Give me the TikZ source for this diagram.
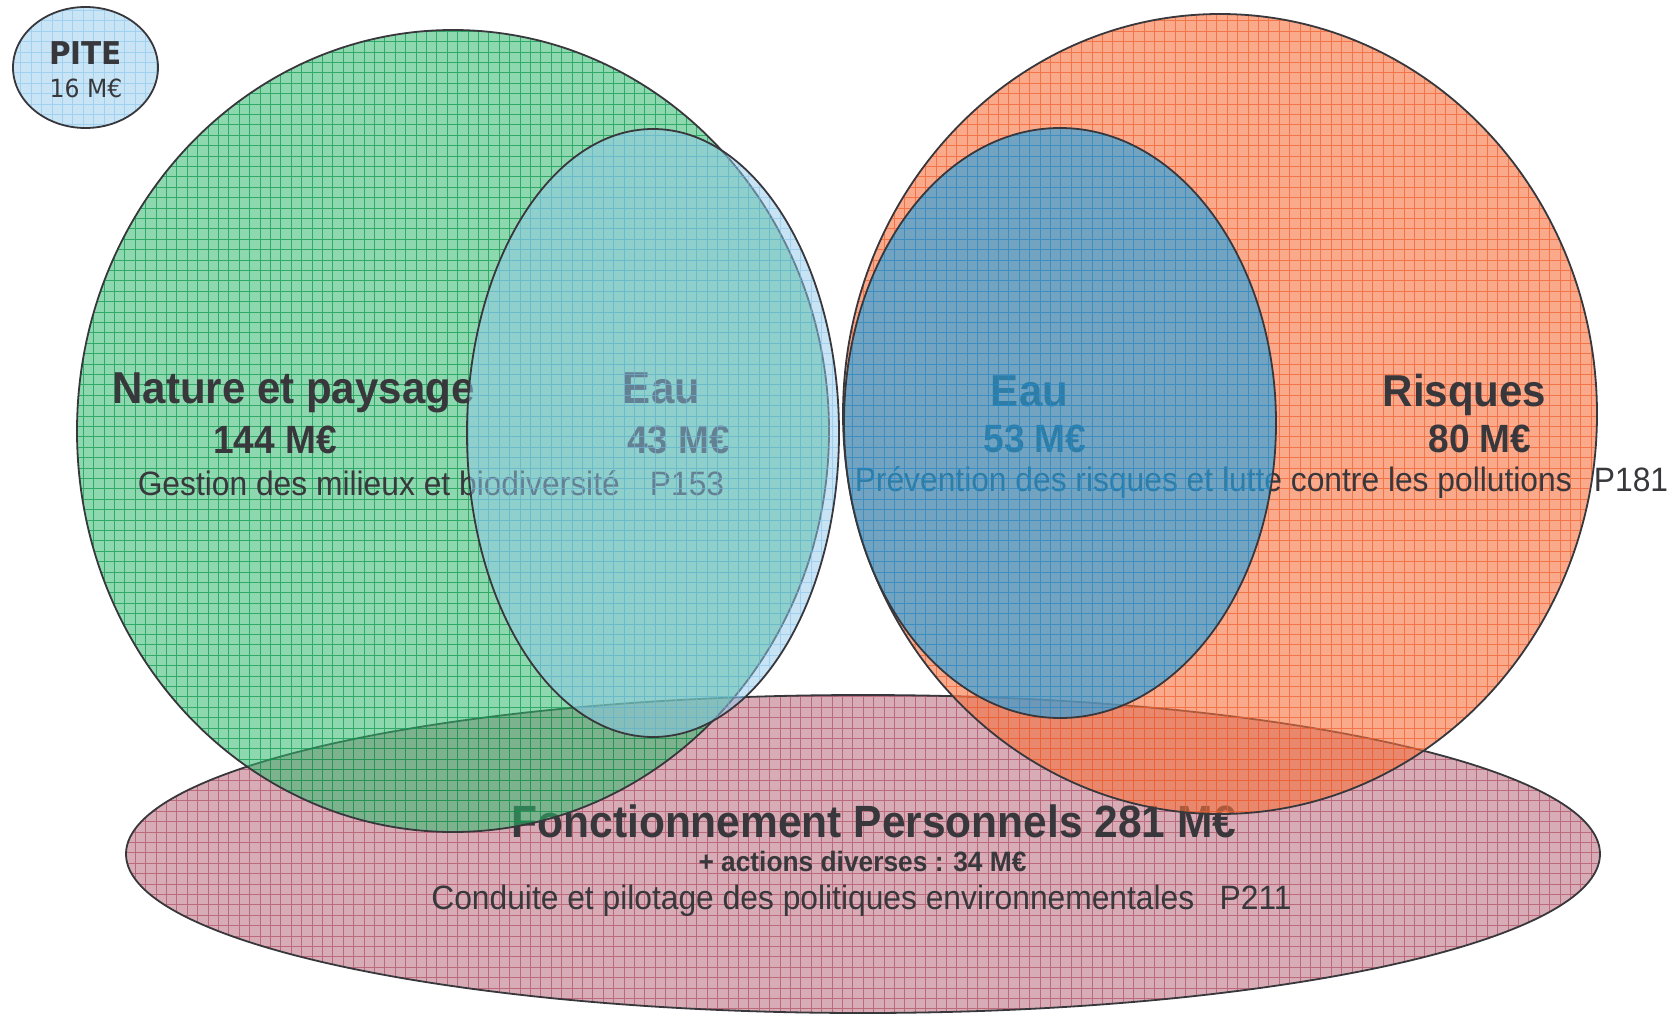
\documentclass[tikz,border=0pt]{standalone}
\usepackage{fontspec}
\setmainfont{Liberation Sans}
\newfontfamily\dejavu{DejaVu Sans}
\usepackage{graphicx}
\definecolor{txt}{RGB}{56,56,60}
\definecolor{olc}{RGB}{55,55,60}
\definecolor{pinkF}{RGB}{216,172,182}
\definecolor{pinkG}{RGB}{180,90,110}
\definecolor{greenF}{RGB}{50,185,110}
\definecolor{greenG}{RGB}{10,150,75}
\definecolor{orangeF}{RGB}{247,113,63}
\definecolor{orangeG}{RGB}{240,95,45}
\definecolor{blueF}{RGB}{145,201,235}
\definecolor{blueG}{RGB}{120,190,235}
\definecolor{blueTF}{RGB}{42,162,225}
\definecolor{blueTG}{RGB}{30,140,210}
\definecolor{piteF}{RGB}{200,228,245}
\definecolor{piteG}{RGB}{150,205,240}
\newcommand\sq[1]{\scalebox{0.94}[1]{#1}}
\newcommand\VennE[8]{%
 \begin{scope}
  \clip (#1,#2) ellipse [x radius=#3pt, y radius=#4pt];
  \fill[fill=#5, fill opacity=#6] ({#1-#3},{#2-#4}) rectangle ({#1+#3},{#2+#4});
  \draw[draw=#7, draw opacity=#8, line width=0.9pt, step=10.4pt] ({#1-#3},{#2-#4}) grid ({#1+#3},{#2+#4});
 \end{scope}
 \draw[outline] (#1,#2) ellipse [x radius=#3pt, y radius=#4pt];
}
\tikzset{
 outline/.style={draw=olc, line width=1.8pt},
 lbl/.style={anchor=base, inner sep=0pt, text=txt},
 titlef/.style={font=\fontsize{44.7}{48}\selectfont\bfseries},
 amountf/.style={font=\fontsize{39.4}{42}\selectfont\bfseries},
 descf/.style={font=\fontsize{33.8}{36}\selectfont},
}
\begin{document}
\begin{tikzpicture}[x=1pt,y=-1pt]
\path[use as bounding box, fill=white] (0,0) rectangle (1675,1016);
% bottom ellipse
\VennE{863}{854}{737}{159}{pinkF}{1}{pinkG}{0.8}
\node[lbl, font=\fontsize{45.2}{48}\selectfont\bfseries] (fonct) at (874,837) {\sq{Fonctionnement Personnels 281 M€}};
\node[lbl, font=\fontsize{28}{30}\selectfont\bfseries] (actions) at (862.5,871) {\sq{+ actions diverses : 34 M€}};
\node[lbl, descf] (p211) at (861.5,909) {\sq{Conduite et pilotage des politiques environnementales\hspace{0.8em}P211}};
% green and orange circles
\VennE{453}{431}{376}{401}{greenF}{0.55}{greenG}{0.7}
\VennE{1220}{414}{377}{400}{orangeF}{0.6}{orangeG}{0.7}
% texts
\node[lbl, titlef] (nature) at (293.5,403) {\sq{Nature et paysage}};
\node[lbl, amountf] (m144) at (275,453) {\sq{144 M€}};
\node[lbl, descf] (p153) at (431,495) {\sq{Gestion des milieux et biodiversité\hspace{0.95em}P153}};
\node[lbl, titlef] (eauL) at (661.5,403) {\sq{Eau}};
\node[lbl, amountf] (m43) at (678.5,453) {\sq{43 M€}};
\node[lbl, titlef] (risques) at (1464.5,406) {\sq{Risques}};
\node[lbl, amountf] (m80) at (1480,452) {\sq{80 M€}};
\node[lbl, titlef] (eauR) at (1029.5,406) {\sq{Eau}};
\node[lbl, amountf] (m53) at (1035,452) {\sq{53 M€}};
\node[lbl, descf] (p181) at (1261.5,491) {\sq{Prévention des risques et lutte contre les pollutions\hspace{0.7em}P181}};
% blue ellipses
\VennE{653}{433}{186}{304}{blueF}{0.5}{blueG}{0.5}
\VennE{1060}{423}{216}{295}{blueTF}{0.65}{blueTG}{0.6}
% PITE
\VennE{85.5}{67.5}{72.5}{60.5}{piteF}{1}{piteG}{0.8}
\node[lbl, font=\dejavu\fontsize{31.4}{34}\selectfont\bfseries] (pite) at (85.5,65) {\sq{PITE}};
\node[lbl, font=\dejavu\fontsize{25}{27}\selectfont] (m16) at (86,98) {\sq{16 M€}};
\end{tikzpicture}
\end{document}
